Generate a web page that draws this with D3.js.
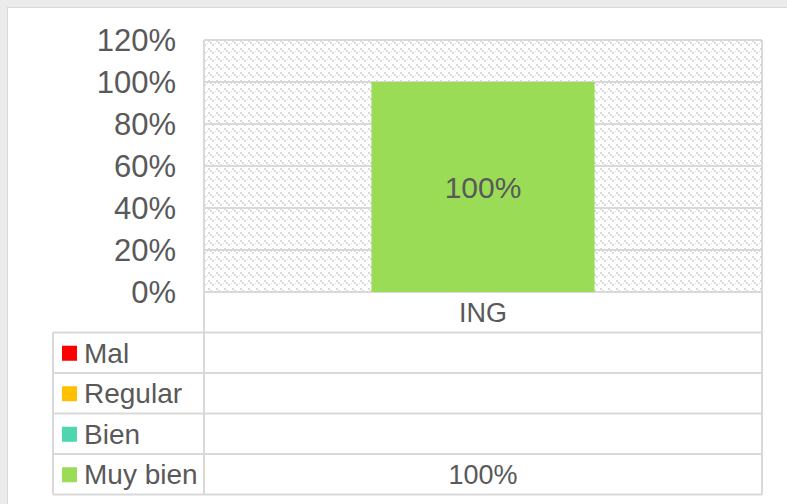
<!DOCTYPE html>
<html>
<head>
<meta charset="utf-8">
<script src="https://cdn.jsdelivr.net/npm/d3@7"></script>
<style>
  body { margin: 0; background: #ebebeb; }
  svg { display: block; }
</style>
</head>
<body>
<div id="chart"></div>
<script>
const categories = ["ING"];
const seriesNames = ["Mal", "Regular", "Bien", "Muy bien"];
const seriesColors = ["#ff0000", "#ffc000", "#4dd6b0", "#9bdc56"];
const seriesValues = [[null], [null], [null], [1]];
const yTicks = [0, 0.2, 0.4, 0.6, 0.8, 1.0, 1.2];

const width = 787, height = 504;
const plot = { left: 204, right: 762, top: 40, bottom: 292 };
const tableLeft = 53, rowH = 40.5;
const textColor = "#595959", lineColor = "#d9d9d9";
const font = "'Liberation Sans', Arial, sans-serif";

const svg = d3.select("#chart").append("svg")
  .attr("width", width).attr("height", height);

// chart area
svg.append("rect")
  .attr("x", 7.5).attr("y", 7.5)
  .attr("width", width).attr("height", height)
  .attr("fill", "#fff").attr("stroke", lineColor).attr("stroke-width", 1);

// hatched plot background
const pat = svg.append("defs").append("pattern")
  .attr("id", "dots").attr("patternUnits", "userSpaceOnUse")
  .attr("width", 8).attr("height", 8);
pat.append("rect").attr("width", 8).attr("height", 8).attr("fill", "#fff");
[[0, 0], [2, 2], [4, 4], [7, 3]].forEach((p, i) => {
  pat.append("rect").attr("x", p[0]).attr("y", p[1])
    .attr("width", i < 3 ? 2 : 1).attr("height", i < 3 ? 2 : 1)
    .attr("fill", "#d9d9d9");
});

svg.append("rect")
  .attr("x", plot.left).attr("y", plot.top)
  .attr("width", plot.right - plot.left).attr("height", plot.bottom - plot.top)
  .attr("fill", "url(#dots)");

const y = d3.scaleLinear().domain([0, 1.2]).range([plot.bottom, plot.top]);
const x = d3.scaleBand().domain(categories).range([plot.left, plot.right])
  .paddingInner(0.4286).paddingOuter(0.4286);

// gridlines
svg.append("g").selectAll("line").data(yTicks).join("line")
  .attr("x1", plot.left).attr("x2", plot.right)
  .attr("y1", d => y(d)).attr("y2", d => y(d))
  .attr("stroke", lineColor).attr("stroke-width", 2);

// y axis labels
svg.append("g").selectAll("text").data(yTicks).join("text")
  .attr("x", 176).attr("y", d => y(d))
  .attr("dy", "0.36em")
  .attr("text-anchor", "end")
  .attr("fill", textColor)
  .style("font-family", font).style("font-size", "31px")
  .text(d => d3.format(".0%")(d));

// stacked bars
const stackData = categories.map((c, i) => {
  const row = { cat: c };
  seriesNames.forEach((s, j) => row[s] = seriesValues[j][i] || 0);
  return row;
});
const stacked = d3.stack().keys(seriesNames)(stackData);

const layers = svg.append("g").selectAll("g").data(stacked).join("g")
  .attr("fill", (d, i) => seriesColors[i]);
layers.selectAll("rect").data(d => d.filter(v => v[1] > v[0])).join("rect")
  .attr("x", d => x(d.data.cat))
  .attr("width", x.bandwidth())
  .attr("y", d => y(d[1]))
  .attr("height", d => y(d[0]) - y(d[1]));

layers.selectAll("text").data(d => d.filter(v => v[1] > v[0])).join("text")
  .attr("x", d => x(d.data.cat) + x.bandwidth() / 2)
  .attr("y", d => (y(d[0]) + y(d[1])) / 2)
  .attr("dy", "0.36em")
  .attr("text-anchor", "middle")
  .attr("fill", textColor)
  .style("font-family", font).style("font-size", "30px")
  .text(d => d3.format(".0%")(d[1] - d[0]));

// data table
const tableBottom = plot.bottom + rowH * (seriesNames.length + 1);
const t = svg.append("g").attr("stroke", lineColor).attr("stroke-width", 2);
t.append("line").attr("x1", plot.left).attr("x2", plot.left)
  .attr("y1", plot.top).attr("y2", tableBottom);
t.append("line").attr("x1", plot.right).attr("x2", plot.right)
  .attr("y1", plot.top).attr("y2", tableBottom);
t.append("line").attr("x1", tableLeft).attr("x2", tableLeft)
  .attr("y1", plot.bottom + rowH).attr("y2", tableBottom);
d3.range(1, seriesNames.length + 2).forEach(k => {
  t.append("line").attr("x1", tableLeft).attr("x2", plot.right)
    .attr("y1", plot.bottom + rowH * k).attr("y2", plot.bottom + rowH * k);
});

svg.append("text")
  .attr("x", x("ING") + x.bandwidth() / 2).attr("y", plot.bottom + rowH / 2)
  .attr("dy", "0.36em").attr("text-anchor", "middle")
  .attr("fill", textColor)
  .style("font-family", font).style("font-size", "27px")
  .text(categories[0]);

const rows = svg.append("g").selectAll("g").data(seriesNames).join("g")
  .attr("transform", (d, i) => `translate(0,${plot.bottom + rowH * (i + 1) + rowH / 2})`);
rows.append("rect")
  .attr("x", 62).attr("y", -7).attr("width", 15).attr("height", 15)
  .attr("fill", (d, i) => seriesColors[i]);
rows.append("text")
  .attr("x", 84).attr("dy", "0.36em")
  .attr("fill", textColor)
  .style("font-family", font).style("font-size", "28px")
  .text(d => d);
rows.append("text")
  .attr("x", x("ING") + x.bandwidth() / 2).attr("dy", "0.36em")
  .attr("text-anchor", "middle")
  .attr("fill", textColor)
  .style("font-family", font).style("font-size", "27px")
  .text((d, i) => seriesValues[i][0] == null ? "" : d3.format(".0%")(seriesValues[i][0]));
</script>
</body>
</html>
